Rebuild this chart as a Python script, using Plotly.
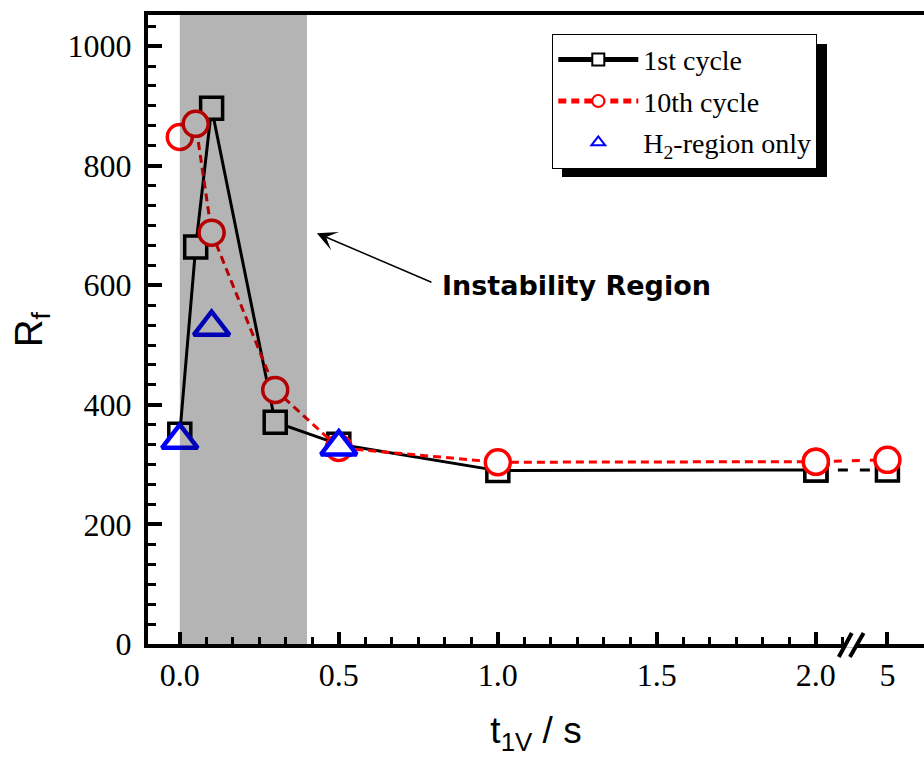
import plotly.graph_objects as go

# ---------------- data ----------------
t_values = [0.0, 0.05, 0.1, 0.3, 0.5, 1.0, 2.0, 5.0]
rf_1st = [351, 664, 896, 371, 334, 290, 291, 291]
rf_10th = [848, 870, 688, 425, 328, 304, 305, 308]
t_h2 = [0.0, 0.1, 0.5]
rf_h2 = [341, 530, 330]

tick_t = [0.0, 0.5, 1.0, 1.5, 2.0, 5.0]
tick_labels = ["0.0", "0.5", "1.0", "1.5", "2.0", "5"]

BREAK_T = 2.0        # last value before the axis break
BREAK_POS = 2.225    # axis position where 5 s is drawn after the break


def xpos(t):
    return t if t <= BREAK_T else BREAK_POS


def split(ts, ys):
    pre = [(xpos(t), y) for t, y in zip(ts, ys) if t <= BREAK_T]
    post = [(xpos(t), y) for t, y in zip(ts, ys) if t >= BREAK_T]
    return ([p[0] for p in pre], [p[1] for p in pre]), ([p[0] for p in post], [p[1] for p in post])


(b_x, b_y), (b_x2, b_y2) = split(t_values, rf_1st)
(r_x, r_y), (r_x2, r_y2) = split(t_values, rf_10th)

BLACK = "#000000"
RED = "#ff0000"
BLUE = "#0000ff"

fig = go.Figure()

# 1st cycle
fig.add_trace(go.Scatter(
    x=b_x2, y=b_y2, mode="lines+markers", showlegend=False,
    line=dict(color=BLACK, width=3, dash="10px,12px"),
    marker=dict(symbol="square", size=22, color="white", line=dict(color=BLACK, width=3.5)),
))
fig.add_trace(go.Scatter(
    x=b_x, y=b_y, mode="lines+markers", name="1st cycle", legendgroup="a",
    line=dict(color=BLACK, width=3),
    marker=dict(symbol="square", size=22, color="white", line=dict(color=BLACK, width=3.5)),
))
# 10th cycle
fig.add_trace(go.Scatter(
    x=r_x2, y=r_y2, mode="lines+markers", showlegend=False,
    line=dict(color=RED, width=3, dash="8px,10px"),
    marker=dict(symbol="circle", size=25, color="white", line=dict(color=RED, width=3.5)),
))
fig.add_trace(go.Scatter(
    x=r_x, y=r_y, mode="lines+markers", name="10th cycle", legendgroup="b",
    line=dict(color=RED, width=3, dash="8px,5px"),
    marker=dict(symbol="circle", size=25, color="white", line=dict(color=RED, width=3.5)),
))
# H2-region only
fig.add_trace(go.Scatter(
    x=[xpos(t) for t in t_h2], y=rf_h2, mode="markers", name="H<sub>2</sub>-region only",
    legendgroup="c",
    marker=dict(symbol="triangle-up", size=31, color="white", line=dict(color=BLUE, width=4.5)),
))

minor_vals = [i / 12 for i in range(1, 26) if i % 6 != 0]

shapes = [
    # instability band (semi-transparent overlay above the data)
    dict(type="rect", xref="x", yref="paper", x0=0.0, x1=0.4, y0=0, y1=1,
         fillcolor="rgba(0,0,0,0.294)", line=dict(width=0), layer="above"),
    # legend shadow
    dict(type="rect", xref="paper", yref="paper", x0=0.5335, x1=0.875, y0=0.7424, y1=0.9539,
         fillcolor="black", line=dict(width=0), layer="above"),
    # axis break
    dict(type="rect", xref="x", yref="paper", x0=2.094, x1=2.129, y0=-0.006, y1=0.006,
         fillcolor="white", line=dict(width=0), layer="above"),
    dict(type="line", xref="x", yref="paper", x0=2.072, x1=2.113, y0=-0.0207, y1=0.0175,
         line=dict(color="black", width=4), layer="above"),
    dict(type="line", xref="x", yref="paper", x0=2.107, x1=2.150, y0=-0.0207, y1=0.0175,
         line=dict(color="black", width=4), layer="above"),
]

annotations = [
    dict(x=0.431, y=687, ax=0.796, ay=604, xref="x", yref="y", axref="x", ayref="y",
         text="", showarrow=True, arrowhead=3, arrowsize=2.2, arrowwidth=1.5, arrowcolor="black",
         standoff=0),
    dict(x=0.818, y=600, xref="x", yref="y", text="<b>Instability Region</b>", showarrow=False,
         xanchor="left", yanchor="middle",
         font=dict(family="DejaVu Sans", size=27, color="black")),
]

fig.update_layout(
    width=924, height=761,
    margin=dict(l=148, r=0, t=15, b=117),
    paper_bgcolor="white", plot_bgcolor="white",
    shapes=shapes, annotations=annotations,
    legend=dict(x=0.521, y=0.970, xanchor="left", yanchor="top",
                bgcolor="white", bordercolor="black", borderwidth=1,
                font=dict(family="Liberation Serif", size=28, color="black"),
                itemwidth=80, itemsizing="constant", tracegroupgap=2),
    xaxis=dict(
        range=[-0.1, 2.34], showline=True, linewidth=4, linecolor="black", mirror=True,
        ticks="inside", ticklen=12, tickwidth=3.5, tickcolor="black",
        tickmode="array", tickvals=[xpos(t) for t in tick_t], ticktext=tick_labels,
        tickfont=dict(family="Liberation Serif", size=32, color="black"),
        showgrid=False, zeroline=False,
        minor=dict(tickmode="array", tickvals=minor_vals, ticks="inside", ticklen=7,
                   tickwidth=3, tickcolor="black", showgrid=False),
        title=dict(text="t<sub>1V</sub> / s", standoff=26,
                   font=dict(family="Liberation Sans", size=37, color="black")),
    ),
    yaxis=dict(
        range=[0, 1052], showline=True, linewidth=4, linecolor="black",
        ticks="inside", ticklen=14, tickwidth=3.5, tickcolor="black",
        tick0=0, dtick=200, ticklabelstandoff=6,
        tickfont=dict(family="Liberation Serif", size=32, color="black"),
        showgrid=False, zeroline=False,
        minor=dict(dtick=200 / 6, ticks="inside", ticklen=8, tickwidth=3,
                   tickcolor="black", showgrid=False),
        title=dict(text="R<sub>f</sub>", standoff=14,
                   font=dict(family="Liberation Sans", size=38, color="black")),
    ),
)

fig.write_html("out.html")
